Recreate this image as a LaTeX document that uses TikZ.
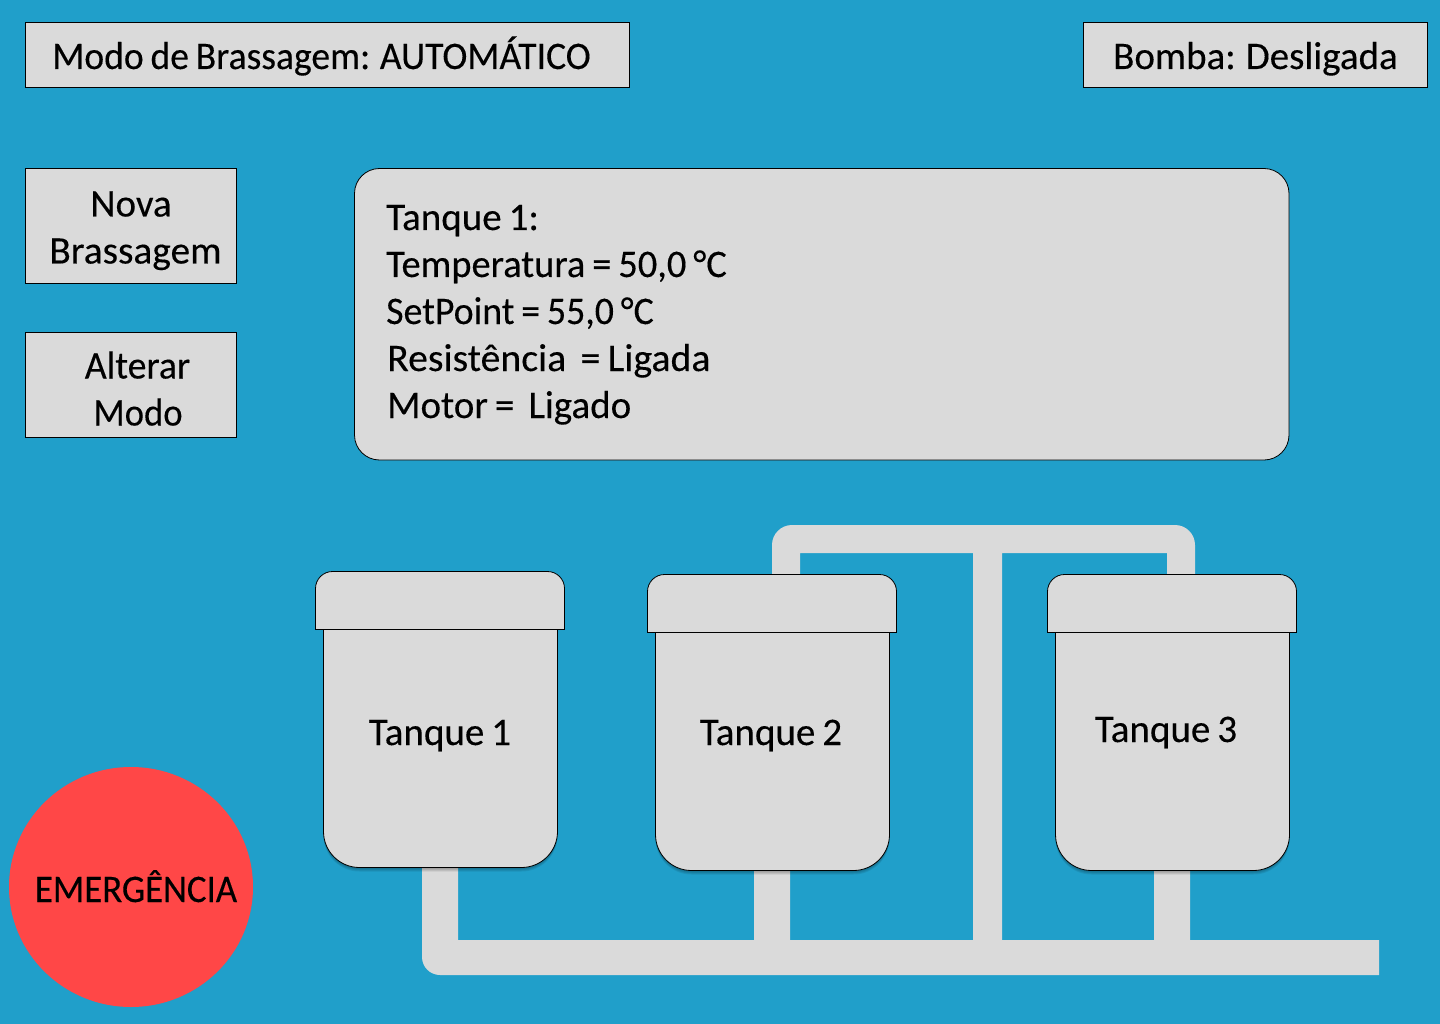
\documentclass[tikz,border=0pt]{standalone}
\usepackage{fontspec}
\usepackage{graphicx}
\usetikzlibrary{shapes.geometric}
\setmainfont[FakeBold=0.25,WordSpace=0.8]{Carlito}
\definecolor{bgblue}{HTML}{209FCA}
\definecolor{panelgray}{HTML}{DADADA}
\definecolor{alarm}{HTML}{FF4747}
\newcommand{\lbl}{\fontsize{39}{47}\selectfont}
\newcommand{\wid}[2]{\scalebox{#1}[1]{#2}}
\tikzset{
  x=1pt,y=-1pt,
  panelbox/.style={draw=black,fill=panelgray,line width=.8pt},
  pipe/.style={fill=panelgray,draw=none},
  caption/.style={inner sep=0pt,text=black,font=\lbl},
  softshadow/.style={fill=black,fill opacity=.08,draw=none}
}
\newcommand{\tank}[3]{% #1 name, #2 left x of lid, #3 top y of lid
  \begin{scope}[shift={(#2,#3)}]
    \foreach \d in {1,2,3,4}{
      \fill[softshadow] (8,100) -- (8,\d+260) arc[start angle=180,end angle=90,x radius=36,y radius=36] -- (206,\d+296) arc[start angle=90,end angle=0,x radius=36,y radius=36] -- (242,100) -- cycle;}
    \path[panelbox] (8,58) -- (8,260) arc[start angle=180,end angle=90,x radius=36,y radius=36] -- (206,296) arc[start angle=90,end angle=0,x radius=36,y radius=36] -- (242,58) -- cycle;
    \path[panelbox] (0,58) -- (0,17) arc[start angle=180,end angle=90,x radius=17,y radius=-17] -- (232,0) arc[start angle=90,end angle=0,x radius=17,y radius=-17] -- (249,58) -- cycle;
    \coordinate (#1) at (0,0);
  \end{scope}
}
\begin{document}
\begin{tikzpicture}
\useasboundingbox (0,0) rectangle (1440,1024);
\fill[bgblue] (0,0) rectangle (1440,1024);
% pipes
\fill[pipe] (422,860) -- (458,860) -- (458,940) -- (754,940) -- (754,860) -- (790,860) -- (790,940) -- (973,940) -- (973,553) -- (800,553) -- (800,580) -- (772,580) -- (772,545) arc[start angle=180,end angle=90,x radius=20,y radius=-20] -- (1175,525) arc[start angle=90,end angle=0,x radius=20,y radius=-20] -- (1195,580) -- (1167,580) -- (1167,553) -- (1002,553) -- (1002,940) -- (1154,940) -- (1154,860) -- (1190,860) -- (1190,940) -- (1379,940) -- (1379,975) -- (440,975) arc[start angle=270,end angle=180,x radius=18,y radius=-18] -- cycle;
% status boxes
\node[panelbox,minimum width=604,minimum height=65,inner sep=0pt] (modo) at (327,54.5) {};
\node[caption,anchor=base west] (modotxt) at (52,69) {\wid{.964}{Modo de Brassagem: AUTOMÁTICO}};
\node[panelbox,minimum width=344,minimum height=65,inner sep=0pt] (bomba) at (1255,54.5) {};
\node[caption,anchor=base west] (bombatxt) at (1113,69) {Bomba: Desligada};
\node[panelbox,minimum width=211,minimum height=115,inner sep=0pt] (nova) at (130.5,225.5) {};
\node[caption,anchor=base] (novaa) at (131,216.5) {Nova};
\node[caption,anchor=base] (novab) at (135.5,263.5) {\wid{1.01}{Brassagem}};
\node[panelbox,minimum width=211,minimum height=105,inner sep=0pt] (alterar) at (130.5,384.5) {};
\node[caption,anchor=base] (alta) at (137.5,378.5) {\wid{.97}{Alterar}};
\node[caption,anchor=base] (altb) at (138,425.5) {\wid{.94}{Modo}};
% readout panel
\draw[panelbox] (354.5,168.5) [rounded corners=25pt] rectangle (1289,460);
\node[caption,anchor=base west] (l1) at (386,230) {Tanque 1:};
\node[caption,anchor=base west] (l2) at (386,277) {\wid{.985}{Temperatura = 50,0 °C}};
\node[caption,anchor=base west] (l3) at (386,324) {\wid{.97}{SetPoint = 55,0 °C}};
\node[caption,anchor=base west] (l4) at (387,371) {\wid{1.02}{Resistência\ \ = Ligada}};
\node[caption,anchor=base west] (l5) at (387,418) {Motor =\ \ Ligado};
% tanks
\tank{t1}{315.5}{571.5}
\tank{t2}{647.5}{574.5}
\tank{t3}{1047.5}{574.5}
\node[caption,anchor=base] (t1txt) at (440,745) {Tanque 1};
\node[caption,anchor=base] (t2txt) at (771,745) {Tanque 2};
\node[caption,anchor=base] (t3txt) at (1166,742) {Tanque 3};
% emergency
\node[fill=alarm,draw=none,ellipse,minimum width=244,minimum height=240,inner sep=0pt] (emerg) at (131,887) {};
\node[caption,anchor=base] (emergtxt) at (136,902) {\wid{.944}{EMERGÊNCIA}};
\end{tikzpicture}
\end{document}
